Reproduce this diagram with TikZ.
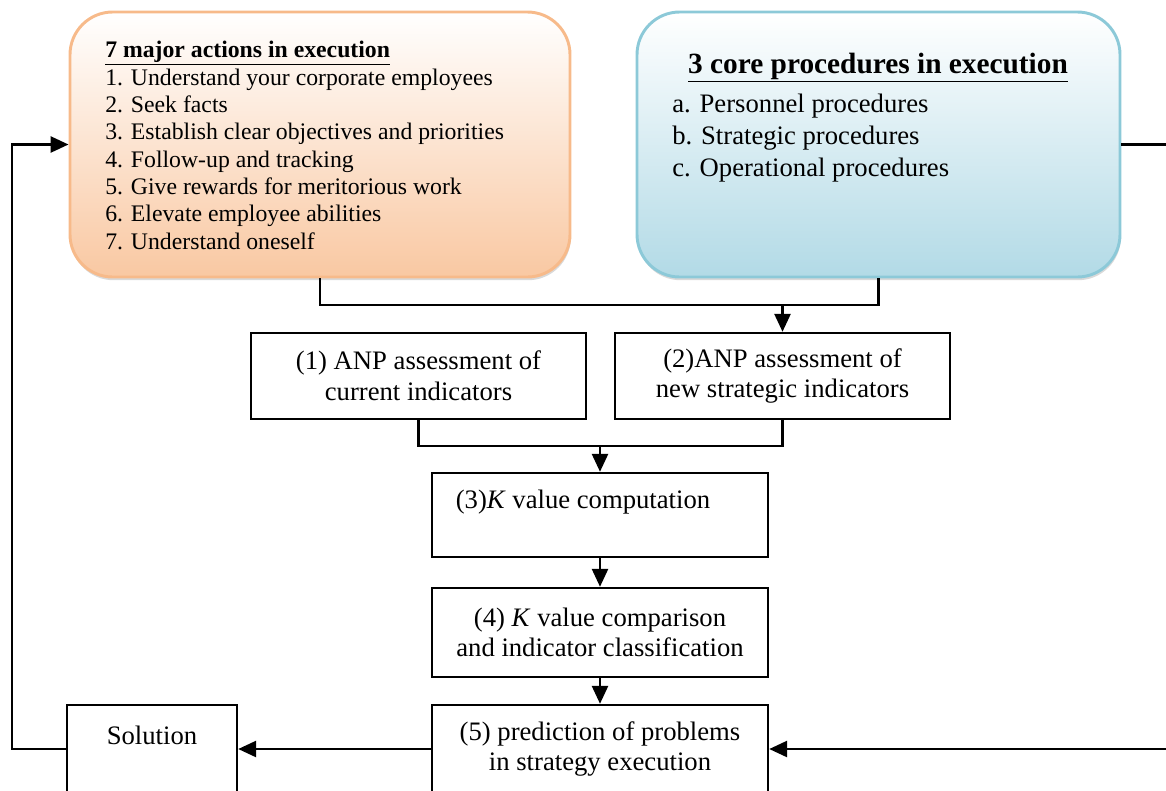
\documentclass[tikz,border=0pt]{standalone}
\usepackage{fontspec}
\setmainfont{Liberation Serif}
\usetikzlibrary{positioning,arrows.meta,shadows}
\definecolor{peach}{HTML}{F9C8A2}
\definecolor{peachline}{HTML}{F7BA8A}
\definecolor{skyfill}{HTML}{B2DAE6}
\definecolor{skyline}{HTML}{8CC9D8}

\begin{document}
\begin{tikzpicture}[x=0.75pt, y=-0.75pt,
		softbox/.style={rounded corners=32pt, line width=2.2pt, inner sep=0pt, minimum height=198.75pt,
			drop shadow={shadow xshift=0.6pt, shadow yshift=-2.4pt, opacity=0.3}},
		stepbox/.style={draw, line width=1.8pt, inner sep=0pt, align=center, minimum width=252pt,
			font=\fontsize{20}{23}\selectfont},
		boxtext/.style={inner sep=0pt, font=\fontsize{20}{23}\selectfont},
		link/.style={line width=2pt},
		flow/.style={line width=2pt, -{Triangle[length=13.5pt, width=12pt]}}]
			\useasboundingbox (0,0) rectangle (1166,790);
			% the two rounded panels
			\node[softbox, draw=peachline, top color=white, bottom color=peach, minimum width=375pt] (actions) at (320,144.5) {};
			\node[anchor=north west, inner sep=0pt, align=left, font=\fontsize{17.8}{20.5}\selectfont] (actionlist) at (105,41)
				{\underline{\textbf{7 major actions in execution}}\\
				1. Understand your corporate employees\\
				2. Seek facts\\
				3. Establish clear objectives and priorities\\
				4. Follow-up and tracking\\
				5. Give rewards for meritorious work\\
				6. Elevate employee abilities\\
				7. Understand oneself};
			\node[softbox, draw=skyline, top color=white, bottom color=skyfill, minimum width=362.25pt] (core) at (878.5,144.5) {};
			\node[anchor=north, inner sep=0pt, font=\fontsize{22}{26}\selectfont\bfseries] (coretitle) at (878,53)
				{\underline{3 core procedures in execution}};
			\node[anchor=north west, inner sep=0pt, align=left, font=\fontsize{20}{24}\selectfont] (corelist) at (672,94)
				{a. Personnel procedures\\
				b. Strategic procedures\\
				c. Operational procedures};
			% the steps
			\node[stepbox, minimum width=251.25pt, minimum height=64.5pt] (anp1) at (418.5,376) {(1) ANP assessment of\\current indicators};
			\node[stepbox, minimum width=251.25pt, minimum height=64.5pt] (anp2) at (782.5,376) {(2)ANP assessment of\\new strategic indicators};
			\node[stepbox, minimum height=63pt] (kcomp) at (600,515) {};
			\node[boxtext] (kcomptext) at (583,502) {(3)\textit{K} value computation};
			\node[stepbox, minimum height=66.75pt] (kclass) at (600,632.5) {(4) \textit{K} value comparison\\and indicator classification};
			\node[stepbox, minimum height=66pt] (predict) at (600,749) {(5) prediction of problems\\in strategy execution};
			\node[stepbox, minimum width=127.5pt, minimum height=66pt] (solution) at (152,749) {};
			\node[boxtext] (solutiontext) at (152,735) {Solution};
			% connectors
			\coordinate (merge1) at (anp2.north |- 0,305);
			\draw[link] (actions.south) |- (merge1) -| (core.south);
			\draw[flow] (merge1) -- (anp2.north);
			\coordinate (merge2) at (kcomp.north |- 0,446);
			\draw[link] (anp1.south) |- (merge2) -| (anp2.south);
			\draw[flow] (merge2) -- (kcomp.north);
			\draw[flow] (kcomp) -- (kclass);
			\draw[flow] (kclass) -- (predict);
			\draw[flow] (predict) -- (solution);
			\coordinate (rightturn) at (1172,749);
			\coordinate (leftturn) at (12,143);
			\draw[flow] (core.east) -| (rightturn) -- (predict.east);
			\draw[flow] (solution.west) -| (leftturn) |- (actions.west);
		\end{tikzpicture}
\end{document}
